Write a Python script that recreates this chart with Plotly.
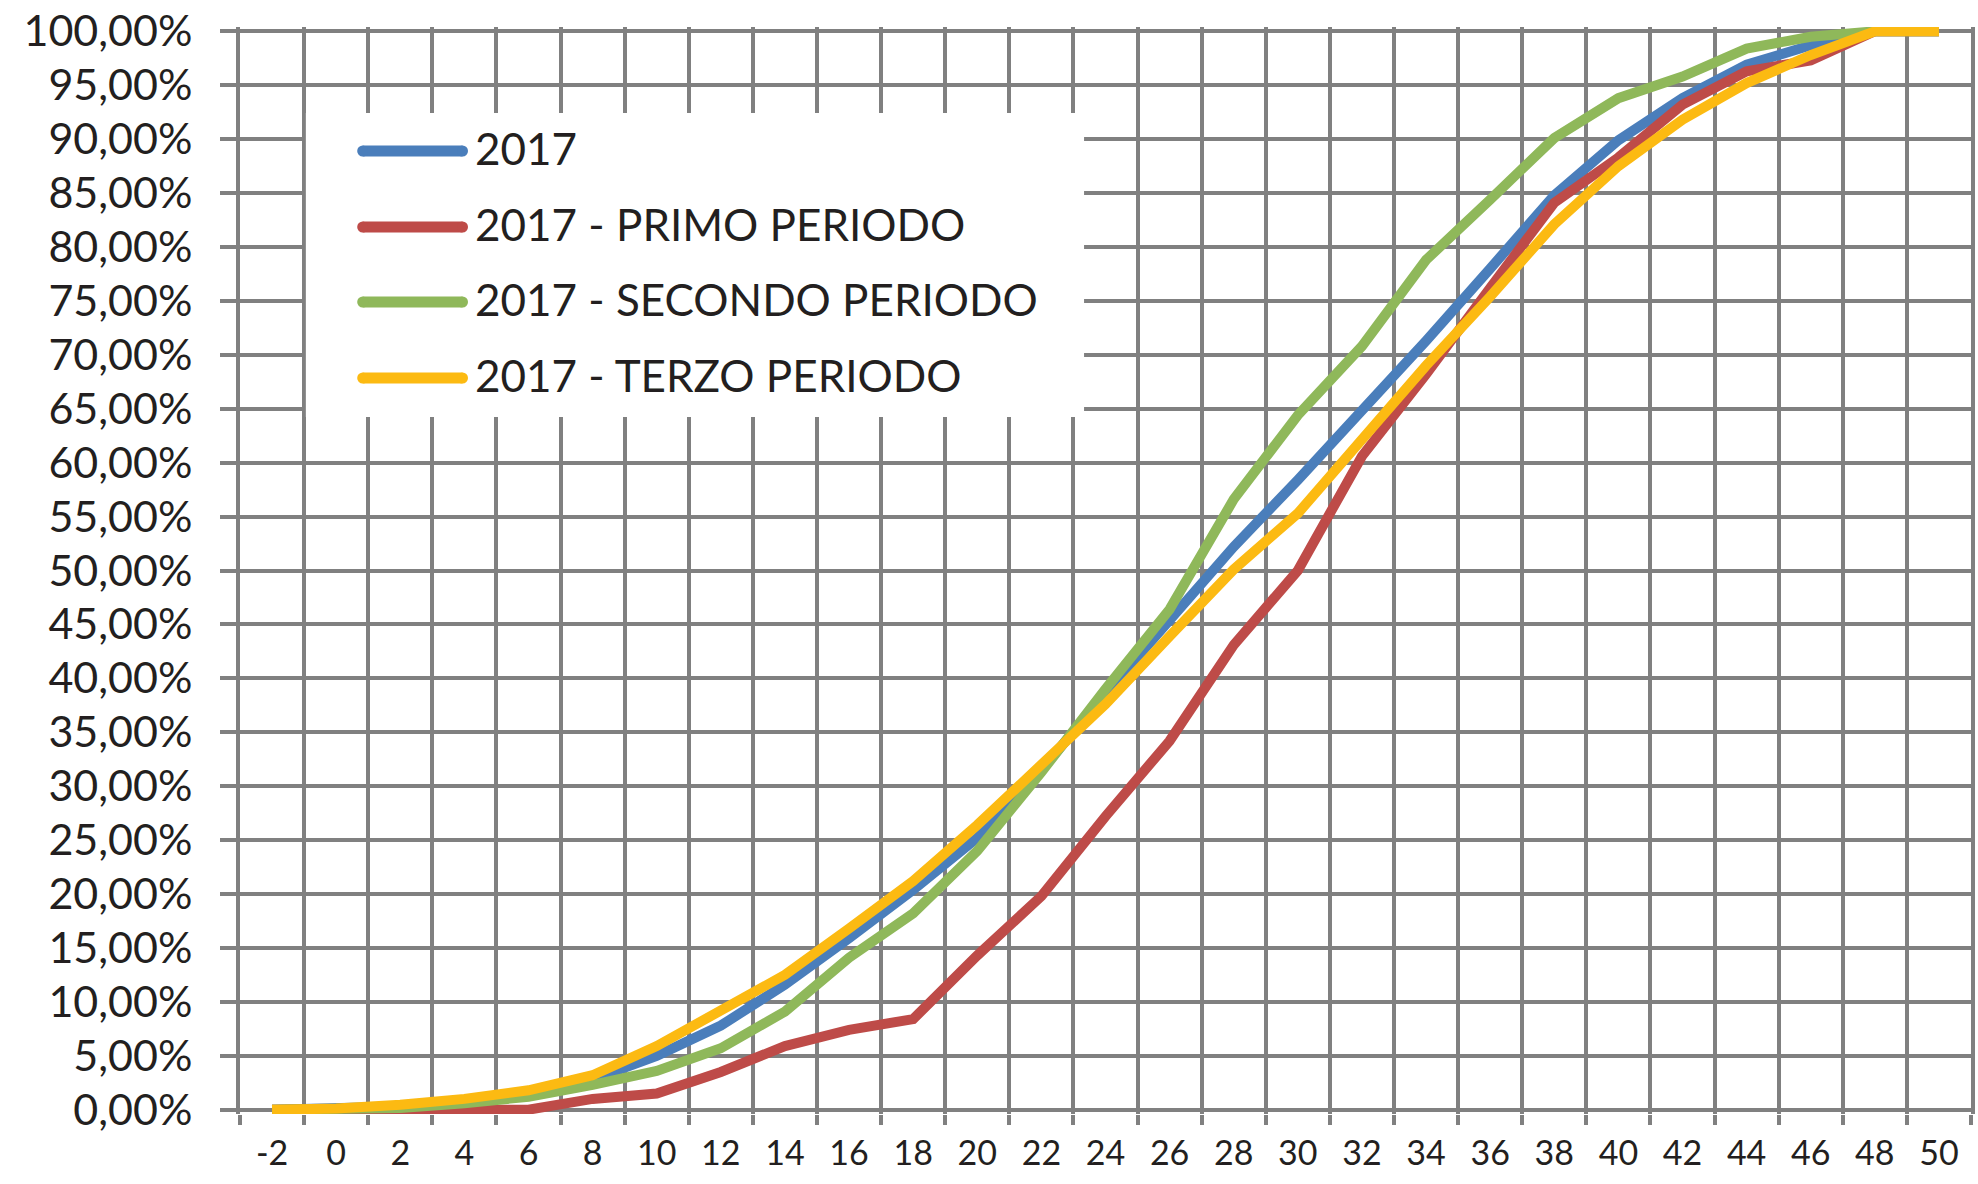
import plotly.graph_objects as go

# ---- data ----
x_labels = [str(v) for v in range(-2, 51, 2)]

s2017 = [0, 0.05, 0.3, 0.8, 1.5, 2.8, 5.0, 7.8, 11.6, 15.9, 20.4, 25.2, 31.5, 38.6,
         45.4, 52.2, 58.4, 64.7, 71.3, 78.0, 84.8, 89.9, 93.8, 96.9, 98.7, 100, 100]
s_primo = [0, 0, 0, 0, 0, 1.0, 1.5, 3.5, 5.9, 7.4, 8.4, 14.3, 19.8, 27.2,
           34.2, 43.1, 50.0, 60.6, 68.2, 76.2, 84.1, 88.3, 93.2, 96.3, 97.3, 100, 100]
s_secondo = [0, 0, 0.15, 0.6, 1.2, 2.3, 3.6, 5.7, 9.1, 14.1, 18.2, 24.0, 31.3, 39.0,
             46.4, 56.6, 64.4, 70.8, 78.8, 84.4, 90.1, 93.8, 95.8, 98.4, 99.5, 100, 100]
s_terzo = [0, 0.1, 0.45, 1.0, 1.8, 3.2, 5.9, 9.2, 12.5, 16.8, 21.2, 26.4, 32.0, 37.6,
           43.9, 50.1, 55.3, 62.1, 69.0, 75.4, 82.1, 87.5, 91.8, 95.2, 97.8, 100, 100]

series_names = ["2017", "2017 - PRIMO PERIODO", "2017 - SECONDO PERIODO", "2017 - TERZO PERIODO"]
series_values = [s2017, s_primo, s_secondo, s_terzo]
colors = ["#4A7EBB", "#BE4B48", "#8FB85A", "#FCBA12"]

y_tickvals = [i / 100 for i in range(0, 101, 5)]

# ---- geometry ----
W, H = 1978, 1184
ML, MR, MT, MB = 240, 3, 27, 70
PW, PH = W - ML - MR, H - MT - MB
GRID = "#808080"
TXT = "#231F20"
FONT = "Lato"


def px_x(X):
    return (X - ML) / PW


def px_y(Y):
    return (MT + PH - Y) / PH


fig = go.Figure()
for name, vals, col in zip(series_names, series_values, colors):
    fig.add_trace(go.Scatter(
        x=x_labels, y=[v / 100 for v in vals], name=name, mode="lines",
        line=dict(color=col, width=10), showlegend=False,
        hovertemplate="%{x}: %{y:.2%}<extra>" + name + "</extra>",
    ))

shapes = []
annotations = []
# legend box
shapes.append(dict(type="rect", xref="paper", yref="paper",
                   x0=px_x(306), x1=px_x(1086), y0=px_y(417), y1=px_y(113),
                   fillcolor="white", line=dict(width=0), layer="above"))
row_y = [151, 227, 302, 378]
for name, col, ry in zip(series_names, colors, row_y):
    shapes.append(dict(type="line", xref="paper", yref="paper",
                       x0=px_x(363), x1=px_x(463), y0=px_y(ry), y1=px_y(ry),
                       line=dict(color=col, width=11), layer="above"))
    for cx in (363, 463):
        shapes.append(dict(type="circle", xref="paper", yref="paper",
                           xsizemode="pixel", ysizemode="pixel",
                           xanchor=px_x(cx), yanchor=px_y(ry),
                           x0=-5.5, x1=5.5, y0=-5.5, y1=5.5,
                           fillcolor=col, line=dict(width=0), layer="above"))
    annotations.append(dict(xref="paper", yref="paper", x=px_x(474), y=px_y(ry - 3),
                            xanchor="left", yanchor="middle", showarrow=False,
                            text=name, font=dict(family=FONT, size=44, color=TXT)))

fig.update_layout(
    width=W, height=H,
    margin=dict(l=ML, r=MR, t=MT, b=MB, pad=0),
    paper_bgcolor="white", plot_bgcolor="white",
    separators=",.",
    font=dict(family=FONT, color=TXT),
    shapes=shapes, annotations=annotations,
    showlegend=False,
)
fig.update_xaxes(
    type="category", tickson="boundaries", range=[-0.5, 26.5],
    showgrid=True, gridcolor=GRID, gridwidth=4,
    ticks="outside", ticklen=10, tickwidth=4, tickcolor=GRID,
    tickfont=dict(family=FONT, size=34, color=TXT),
    ticklabelstandoff=16,
    showline=False, zeroline=False,
)
fig.update_yaxes(
    range=[-0.004, 1.004], tickvals=y_tickvals, tickformat=".2%",
    showgrid=True, gridcolor=GRID, gridwidth=4,
    ticks="outside", ticklen=16, tickwidth=4, tickcolor=GRID,
    tickfont=dict(family=FONT, size=43, color=TXT),
    ticklabelstandoff=19,
    showline=True, mirror=True, linecolor=GRID, linewidth=4,
    zeroline=False,
)

fig.write_html("out.html", config={"displayModeBar": False},
               post_script="document.body.style.margin='0';")
